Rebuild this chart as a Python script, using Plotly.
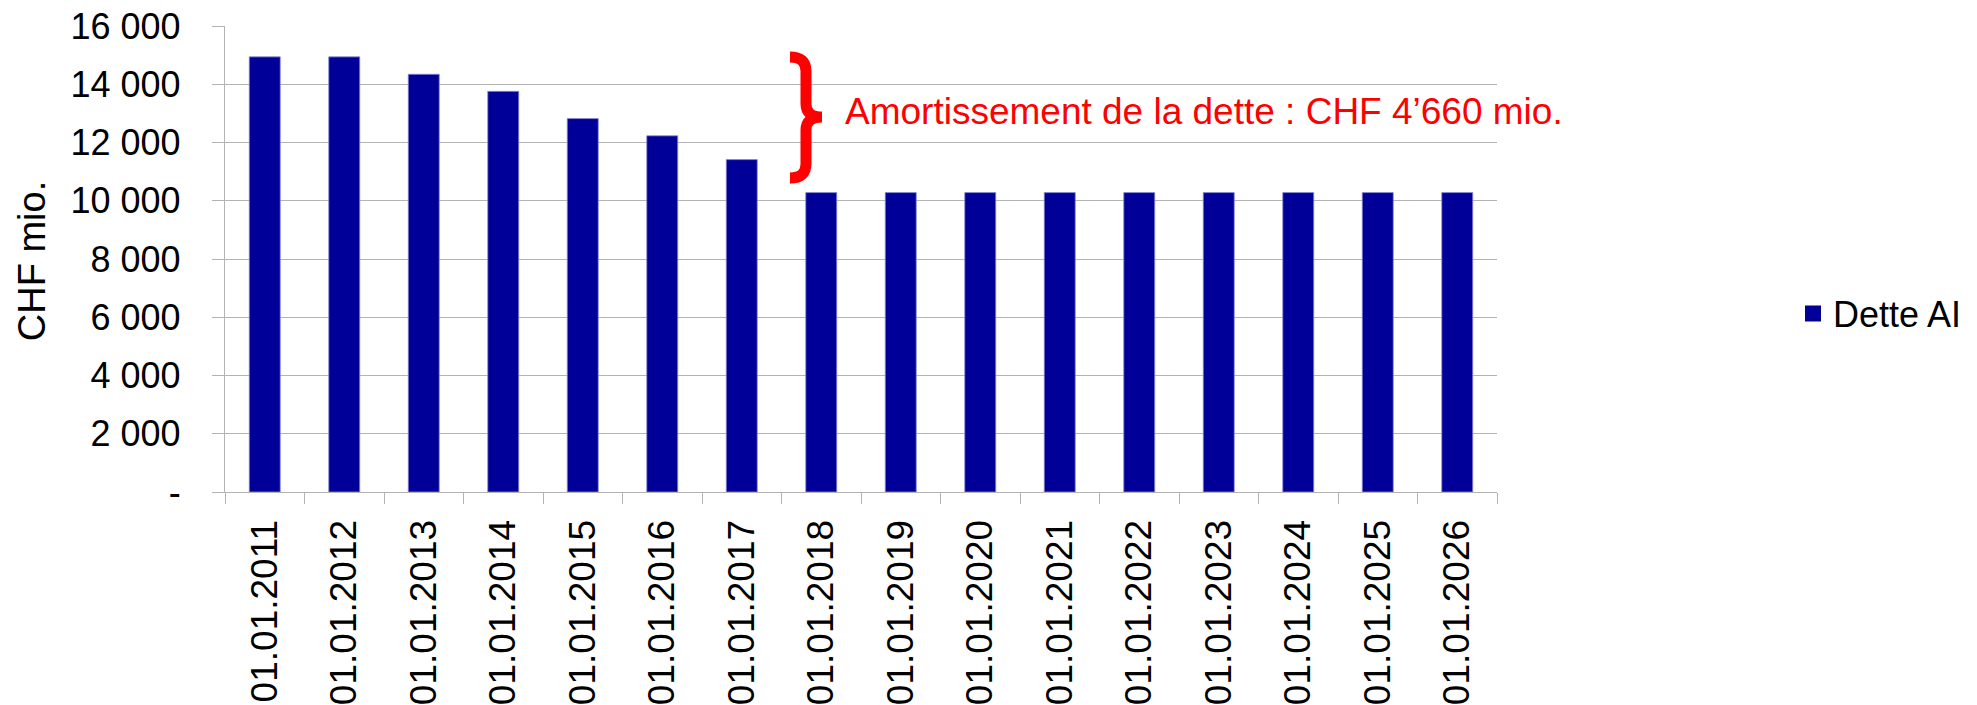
import plotly.graph_objects as go

# ---- data ----
categories = ["01.01.2011", "01.01.2012", "01.01.2013", "01.01.2014", "01.01.2015",
              "01.01.2016", "01.01.2017", "01.01.2018", "01.01.2019", "01.01.2020",
              "01.01.2021", "01.01.2022", "01.01.2023", "01.01.2024", "01.01.2025",
              "01.01.2026"]
dette_ai = [14940, 14940, 14342, 13757, 12821, 12230, 11413, 10280, 10280, 10280,
            10280, 10280, 10280, 10280, 10280, 10280]
series_name = "Dette AI"
y_tickvals = [0, 2000, 4000, 6000, 8000, 10000, 12000, 14000, 16000]
y_ticktext = ["-", "2 000", "4 000", "6 000", "8 000", "10 000", "12 000", "14 000", "16 000"]
y_title = "CHF mio."
annotation_text = "Amortissement de la dette : CHF 4\u2019660 mio."

# ---- layout constants ----
W, H = 1977, 705
ML, MR, MT, MB = 225, 480, 26, 213
PW = W - ML - MR
PH = H - MT - MB
FONT = "Liberation Sans, Arial, sans-serif"
BAR_COLOR = "#000099"
GRID = "#b3b3b3"


def px_x(px):
    return (px - ML) / PW


def px_y(py):
    return (H - MB - py) / PH


fig = go.Figure()
fig.add_trace(go.Bar(
    x=categories, y=dette_ai, name=series_name,
    marker=dict(color=BAR_COLOR, line=dict(color="#8c8cd0", width=0.8)),
    showlegend=False, legendgroup="d",
))
# legend proxy (larger square symbol)
fig.add_trace(go.Scatter(
    x=[None], y=[None], mode="markers", name=series_name, legendgroup="d",
    marker=dict(symbol="square", size=16, color=BAR_COLOR),
))

# brace "}" drawn as a path (paper coordinates)
pts = [("M", (790, 57)), ("Q", (806, 57, 806, 71)), ("L", (806, 104)),
       ("Q", (806, 117, 822, 117)), ("Q", (806, 117, 806, 130)), ("L", (806, 164)),
       ("Q", (806, 178, 790, 178))]
path = ""
for cmd, c in pts:
    coords = []
    for i in range(0, len(c), 2):
        coords.append(f"{px_x(c[i]):.5f},{px_y(c[i+1]):.5f}")
    path += cmd + " " + " ".join(coords) + " "
fig.add_shape(type="path", path=path.strip(), xref="paper", yref="paper",
              line=dict(color="#ff0000", width=11))

fig.add_annotation(text=annotation_text, xref="paper", yref="paper",
                   x=px_x(843), y=px_y(111), xanchor="left", yanchor="middle",
                   showarrow=False, font=dict(family=FONT, size=37, color="#ff0000"))

# y-axis title
fig.add_annotation(text=y_title, xref="paper", yref="paper",
                   x=px_x(31.5), y=px_y(261.7), xanchor="center", yanchor="middle",
                   textangle=-90, showarrow=False,
                   font=dict(family=FONT, size=38, color="black"))

fig.update_layout(
    width=W, height=H,
    margin=dict(l=ML, r=MR, t=MT, b=MB, pad=0, autoexpand=False),
    paper_bgcolor="white", plot_bgcolor="white",
    font=dict(family=FONT, color="black", size=36),
    bargap=0.61,
    legend=dict(x=px_x(1793), y=px_y(313.5), xanchor="left", yanchor="middle",
                bgcolor="rgba(0,0,0,0)", font=dict(family=FONT, size=36, color="black")),
)
fig.update_xaxes(
    type="category", range=[-0.5, len(categories) - 0.5], automargin=False,
    showline=True, linecolor=GRID, linewidth=1.3,
    ticks="outside", tickson="boundaries", ticklen=11, tickcolor=GRID, tickwidth=1.3,
    tickangle=-90, tickfont=dict(family=FONT, size=37, color="black"),
    ticklabelstandoff=12, showgrid=False,
)
fig.update_yaxes(
    range=[0, 16000], tickvals=y_tickvals, ticktext=y_ticktext, automargin=False,
    showgrid=True, gridcolor=GRID, gridwidth=1.3, zeroline=False,
    showline=True, linecolor=GRID, linewidth=1.3,
    ticks="outside", ticklen=12, tickcolor=GRID, tickwidth=1.3,
    ticklabelstandoff=24, tickfont=dict(family=FONT, size=36, color="black"),
)

fig.write_html("out.html", config={"displayModeBar": False},
               post_script="document.body.style.margin='0px';")
